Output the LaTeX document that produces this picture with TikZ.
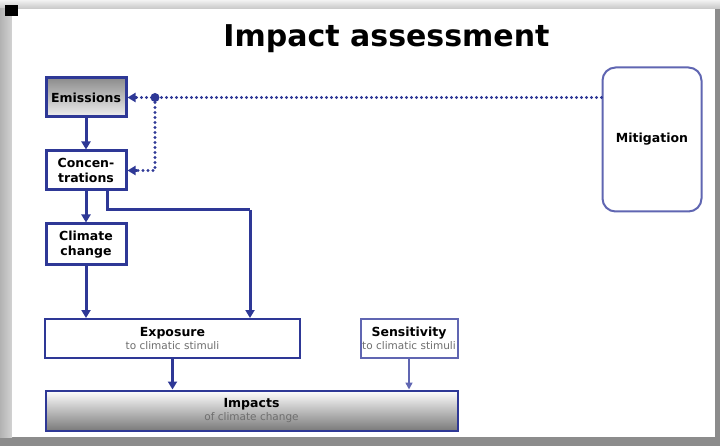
\documentclass[tikz,border=0pt]{standalone}
\usepackage{fontspec}
\setmainfont{DejaVu Sans}
\usetikzlibrary{arrows.meta,calc}
\definecolor{navy}{RGB}{46,56,150}
\definecolor{softblue}{RGB}{96,102,178}
\definecolor{frame}{RGB}{140,140,140}
\definecolor{subgray}{RGB}{110,110,110}
% small grey second line inside a box
\newcommand{\subline}[1]{{\fontsize{10.5}{12}\selectfont\mdseries\color{subgray}#1}}
\begin{document}
\begin{tikzpicture}[x=1pt,y=-1pt,
  mainbox/.style={draw=navy,line width=3pt,fill=white,inner sep=0pt,
    minimum width=80,minimum height=39,align=center,
    font=\fontsize{12.5}{15}\selectfont\bfseries},
  widebox/.style={draw=navy,line width=2pt,inner sep=0pt,align=center,
    font=\fontsize{12.5}{15}\selectfont\bfseries},
  flow/.style={draw=navy,line width=3pt,-{Triangle[length=8pt,width=9pt]}},
  thinflow/.style={draw=softblue,line width=1.6pt,-{Triangle[length=7pt,width=7pt]}},
  dotline/.style={draw=navy,line width=3.2pt,line cap=round,
    dash pattern=on 0pt off 5pt},
  dothead/.style={-{Triangle[length=8pt,width=9pt]}}]

% slide frame
\useasboundingbox (0,0) rectangle (720,446);
\fill[frame] (0,0) rectangle (720,446);
\shade[top color=gray!10,bottom color=gray!45] (0,0) rectangle (720,9);
\shade[left color=gray!60,right color=gray!35] (0,9) rectangle (12,437);
\fill[white] (12,9) rectangle (715,437);
\fill[black] (5,5) rectangle (18,16);

% title
\node[font=\fontsize{30}{33}\selectfont\bfseries,anchor=base] (title) at (386.5,47) {Impact assessment};

% boxes
\node[mainbox,top color=black!45,bottom color=black!6] (emis) at (86,97.5) {Emissions};
\node[mainbox] (conc) at (86,170.5) {Concen-\\trations};
\node[mainbox,minimum height=41] (clim) at (86,244.5) {Climate\\change};
\node[widebox,fill=white,minimum width=255,minimum height=39] (expo) at (172.5,338.5)
  {Exposure\\[-2pt]\subline{to climatic stimuli}};
\node[widebox,draw=softblue,fill=white,minimum width=97,minimum height=39] (sens) at (409,338)
  {Sensitivity\\[-2pt]\subline{to climatic stimuli}};
\node[widebox,top color=white,middle color=black!10,bottom color=black!52,
  minimum width=412,minimum height=40] (imp) at (251.5,410.5)
  {Impacts\\[-2pt]\subline{of climate change}};
\node[draw=softblue,line width=2pt,rounded corners=13pt,fill=white,
  minimum width=99,minimum height=144,inner sep=0pt,
  font=\fontsize{12.5}{15}\selectfont\bfseries] (miti) at (652,139.5) {Mitigation};

% solid flows
\draw[flow] (emis.south) -- (conc.north);
\draw[flow] (conc.south) -- (clim.north);
\draw[flow] (clim.south) -- (clim.south |- expo.north);
\coordinate (knee) at (250,210);
\draw[flow,-] ([xshift=21pt]conc.south) -- ([xshift=21pt]conc.south |- knee) -- (knee);
\draw[flow] (knee) -- (knee |- expo.north);
\draw[flow] (expo.south) -- (expo.south |- imp.north);
\draw[thinflow] (sens.south) -- (sens.south |- imp.north);

% dotted mitigation links
\coordinate (split) at (155,97.5);
\draw[dotline] (miti.west |- emis.east) -- ([xshift=8pt]emis.east);
\draw[navy,line width=2.6pt,dothead] ([xshift=9pt]emis.east) -- (emis.east);
\draw[dotline] (split) |- ([xshift=8pt]conc.east);
\draw[navy,line width=2.6pt,dothead] ([xshift=9pt]conc.east) -- (conc.east);
\fill[navy] (split) circle (4.5pt);
\end{tikzpicture}
\end{document}
